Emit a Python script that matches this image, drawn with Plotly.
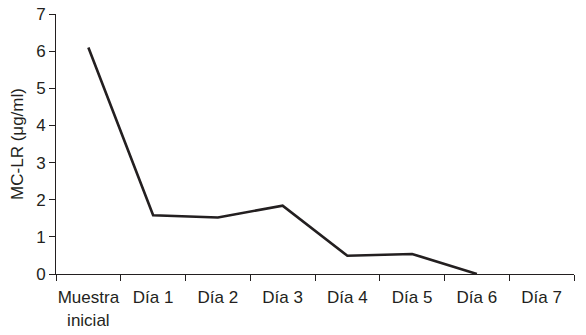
import plotly.graph_objects as go

categories = ["Muestra<br>inicial", "Día 1", "Día 2", "Día 3", "Día 4", "Día 5", "Día 6", "Día 7"]
mc_lr = [6.1, 1.58, 1.52, 1.84, 0.49, 0.54, 0.0, None]
y_ticks = [0, 1, 2, 3, 4, 5, 6, 7]

fig = go.Figure()
fig.add_trace(go.Scatter(
    x=categories, y=mc_lr, mode="lines",
    line=dict(color="#231f20", width=2.6),
    connectgaps=False, showlegend=False,
))

font = dict(family="Liberation Sans, Arial, sans-serif", size=17, color="#231f20")
fig.update_layout(
    width=586, height=335,
    margin=dict(l=56, r=12, t=14, b=61),
    paper_bgcolor="white", plot_bgcolor="white",
    font=font,
    xaxis=dict(
        type="category", range=[-0.5, 7.5], automargin=False, tickangle=0,
        showline=True, linecolor="#231f20", linewidth=1,
        ticks="outside", tickson="boundaries", ticklen=6, tickcolor="#231f20",
        showgrid=False, zeroline=False, tickfont=font, ticklabelstandoff=8,
    ),
    yaxis=dict(
        range=[0, 7], tickvals=y_ticks, automargin=False,
        showline=True, linecolor="#231f20", linewidth=1,
        ticks="outside", ticklen=6, tickcolor="#231f20",
        showgrid=False, zeroline=False, tickfont=font,
        title=dict(text="MC-LR (μg/ml)", font=font, standoff=8),
    ),
)
fig.write_html("out.html", config={"displayModeBar": False},
               post_script="document.body.style.margin='0px';")
